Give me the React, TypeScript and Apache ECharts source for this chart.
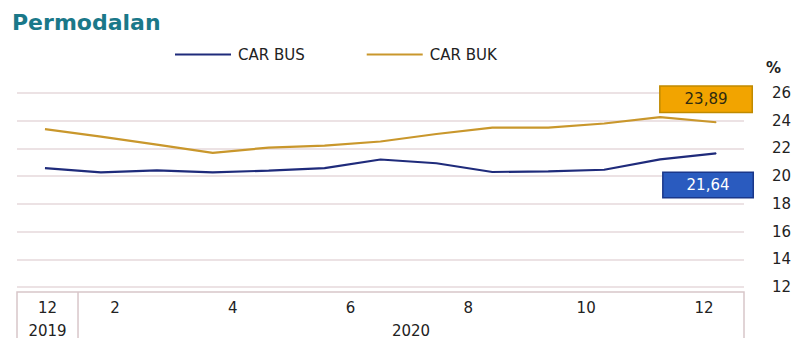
import React, { useEffect, useRef } from "react";
import * as echarts from "echarts";

// ---- data ----
const months = ["Dec-19", "Jan-20", "Feb-20", "Mar-20", "Apr-20", "May-20", "Jun-20", "Jul-20", "Aug-20", "Sep-20", "Oct-20", "Nov-20", "Dec-20"];
const carBus = [20.58, 20.27, 20.42, 20.27, 20.4, 20.58, 21.2, 20.93, 20.3, 20.35, 20.46, 21.21, 21.64];
const carBuk = [23.39, 22.85, 22.27, 21.68, 22.06, 22.2, 22.5, 23.04, 23.5, 23.5, 23.8, 24.26, 23.89];
const monthTickLabels = ["12", "2", "4", "6", "8", "10", "12"];
const yearLabels = ["2019", "2020"];
const seriesNames = ["CAR BUS", "CAR BUK"];

// label-axis coordinate where each tick label sits (month scale of the printed axis)
const LABEL_MIN = 0.336;
const LABEL_MAX = 12.68;
const DIVIDER = 1.372;
const monthTickValues = [(LABEL_MIN + DIVIDER) / 2, 2, 4, 6, 8, 10, 12];
const yearTickValues = [(LABEL_MIN + DIVIDER) / 2, (DIVIDER + LABEL_MAX) / 2];

const FONT = "DejaVu Sans";
const BUS_COLOR = "#1f2b7b";
const BUK_COLOR = "#c9972c";

const fmt = (p: any) => Number(p.value).toFixed(2).replace(".", ",");

export default function App() {
  const ref = useRef<HTMLDivElement>(null);
  useEffect(() => {
    if (!ref.current) return;
    const chart = echarts.init(ref.current, undefined, { renderer: "svg" });
    const last = months.length - 1;
    const gridLeft = 17;
    const gridRight = 59;
    const gridTop = 93;
    const gridBottom = 46;
    const width = 803;
    const height = 338;
    const gridW = width - gridLeft - gridRight;
    const dividerX = gridLeft + ((DIVIDER - LABEL_MIN) / (LABEL_MAX - LABEL_MIN)) * gridW;
    const boxTop = height - gridBottom;

    const lastPoint = (v: number, label: any) => ({
      value: v,
      symbol: "circle",
      symbolSize: 1,
      label: { show: true, formatter: fmt, fontFamily: FONT, fontSize: 15, ...label },
    });

    chart.setOption({
      animation: false,
      backgroundColor: "#ffffff",
      textStyle: { fontFamily: FONT },
      title: {
        text: "Permodalan",
        left: 7,
        top: 6,
        textStyle: { fontFamily: FONT, fontSize: 22, fontWeight: "bold", color: "#1a7889" },
      },
      legend: {
        data: seriesNames,
        left: 170,
        top: 42,
        itemWidth: 56,
        itemHeight: 12,
        itemGap: 62,
        icon: "path://M0,5 L56,5 L56,7 L0,7 Z",
        textStyle: { fontFamily: FONT, fontSize: 15, color: "#222222", padding: [0, 0, 0, 2] },
      },
      grid: { left: gridLeft, right: gridRight, top: gridTop, bottom: gridBottom, containLabel: false },
      xAxis: [
        {
          type: "category",
          data: months,
          boundaryGap: true,
          axisLine: { show: false },
          axisTick: { show: false },
          axisLabel: { show: false },
          splitLine: { show: false },
        },
        {
          type: "value",
          position: "bottom",
          min: LABEL_MIN,
          max: LABEL_MAX,
          axisLine: { show: false },
          axisTick: { show: false },
          splitLine: { show: false },
          axisLabel: {
            customValues: monthTickValues,
            formatter: (v: number) => {
              const i = monthTickValues.findIndex((t) => Math.abs(t - v) < 1e-6);
              return i >= 0 ? monthTickLabels[i] : "";
            },
            margin: 13,
            fontFamily: FONT,
            fontSize: 15,
            color: "#222222",
          },
        },
        {
          type: "value",
          position: "bottom",
          min: LABEL_MIN,
          max: LABEL_MAX,
          axisLine: { show: false },
          axisTick: { show: false },
          splitLine: { show: false },
          axisLabel: {
            customValues: yearTickValues,
            formatter: (v: number) => {
              const i = yearTickValues.findIndex((t) => Math.abs(t - v) < 1e-6);
              return i >= 0 ? yearLabels[i] : "";
            },
            margin: 36,
            fontFamily: FONT,
            fontSize: 15,
            color: "#222222",
          },
        },
      ],
      yAxis: {
        type: "value",
        position: "right",
        min: 12,
        max: 26,
        interval: 2,
        name: "%",
        nameLocation: "end",
        nameGap: 25,
        nameTextStyle: {
          fontFamily: FONT,
          fontSize: 15,
          fontWeight: "bold",
          color: "#222222",
          align: "left",
          verticalAlign: "middle",
          padding: [0, 0, 0, 22],
        },
        axisLine: { show: false },
        axisTick: { show: false },
        axisLabel: { margin: 28, align: "left", fontFamily: FONT, fontSize: 15, color: "#222222" },
        splitLine: { lineStyle: { color: "#e6d8db", width: 1.5 } },
      },
      graphic: [
        {
          type: "rect",
          shape: { x: gridLeft, y: boxTop, width: gridW, height: 80 },
          style: { fill: "none", stroke: "#d8c6c9", lineWidth: 1.5 },
          z: 10,
        },
        {
          type: "line",
          shape: { x1: dividerX, y1: boxTop, x2: dividerX, y2: height + 10 },
          style: { stroke: "#d8c6c9", lineWidth: 1.5 },
          z: 10,
        },
      ],
      series: [
        {
          name: seriesNames[0],
          type: "line",
          data: carBus.map((v, i) =>
            i === last
              ? lastPoint(v, {
                  position: "bottom",
                  distance: 19,
                  offset: [-8, 0],
                  color: "#ffffff",
                  backgroundColor: "#2a5bbf",
                  borderColor: "#1a378a",
                  borderWidth: 1.5,
                  padding: [5, 23, 4, 23],
                })
              : v
          ),
          showSymbol: true,
          symbol: "none",
          lineStyle: { color: BUS_COLOR, width: 2.2 },
          itemStyle: { color: BUS_COLOR },
          z: 3,
        },
        {
          name: seriesNames[1],
          type: "line",
          data: carBuk.map((v, i) =>
            i === last
              ? lastPoint(v, {
                  position: "top",
                  distance: 10,
                  offset: [-10, 0],
                  color: "#2e2a10",
                  backgroundColor: "#f2a400",
                  borderColor: "#c08a00",
                  borderWidth: 1.5,
                  padding: [5, 24, 5, 24],
                })
              : v
          ),
          showSymbol: true,
          symbol: "none",
          lineStyle: { color: BUK_COLOR, width: 2.2 },
          itemStyle: { color: BUK_COLOR },
          z: 3,
        },
      ],
    });
    return () => chart.dispose();
  }, []);
  return <div ref={ref} style={{ width: 803, height: 338, position: "absolute", left: 0, top: 0 }} />;
}
